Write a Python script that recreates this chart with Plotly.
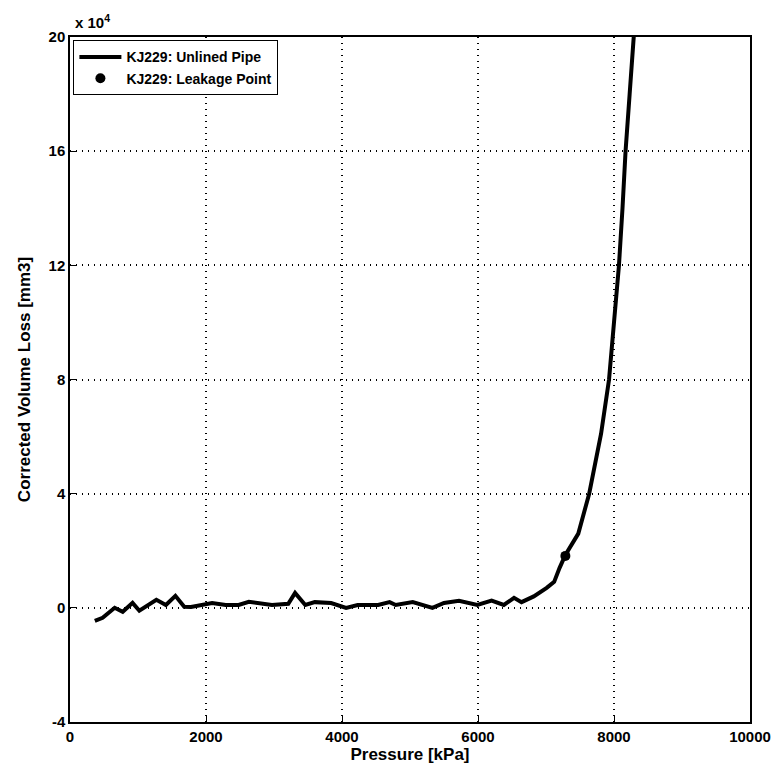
import plotly.graph_objects as go

pressure = [365, 480, 657, 775, 920, 1020, 1270, 1410, 1550, 1680, 1780, 2090, 2290, 2480, 2630,
            2970, 3210, 3310, 3460, 3600, 3840, 4060, 4230, 4530, 4700, 4790, 5040, 5300, 5330,
            5500, 5720, 5990, 6200, 6380, 6530, 6640, 6820, 7010, 7120, 7200, 7285, 7475, 7635,
            7810, 7927, 8000, 8073, 8125, 8170, 8230, 8290, 8330]
volume = [-4600, -3500, 0, -1400, 1750, -1000, 2800, 1000, 4200, 400, 300, 1700, 1000, 1000, 2100,
          1000, 1400, 5200, 1000, 2000, 1700, 0, 1000, 1000, 2000, 1000, 2000, 400, 0,
          1700, 2500, 1000, 2500, 1000, 3500, 2000, 4000, 7000, 9100, 14000, 18500, 26000, 40000,
          61000, 80000, 100000, 120000, 140000, 160000, 180000, 200000, 206000]
leak_x = [7285]
leak_y = [18200]

y_ticks = [-40000, 0, 40000, 80000, 120000, 160000, 200000]
y_labels = ["-4", "0", "4", "8", "12", "16", "20"]
x_ticks = [0, 2000, 4000, 6000, 8000, 10000]
x_labels = ["0", "2000", "4000", "6000", "8000", "10000"]

fig = go.Figure()
fig.add_trace(go.Scatter(x=pressure, y=volume, mode="lines", name="KJ229: Unlined Pipe",
                         line=dict(color="black", width=4)))
fig.add_trace(go.Scatter(x=leak_x, y=leak_y, mode="markers", name="KJ229: Leakage Point",
                         marker=dict(color="black", size=10)))

font = dict(family="Liberation Sans, Arial", size=15, color="black", weight="bold")
grid_dash = "1px,5px"
fig.update_layout(
    width=783, height=773,
    margin=dict(l=70, r=28, t=37, b=51),
    paper_bgcolor="white", plot_bgcolor="white",
    font=font,
    showlegend=True,
    legend=dict(x=0.005, y=0.995, xanchor="left", yanchor="top", bgcolor="white",
                bordercolor="black", borderwidth=1, font=dict(size=14, weight="bold"),
                itemwidth=42, tracegroupgap=0),
    xaxis=dict(range=[0, 10000], tickvals=x_ticks, ticktext=x_labels, showgrid=True,
               gridcolor="black", griddash=grid_dash, gridwidth=1.5, showline=True,
               linecolor="black", linewidth=1.5,
               mirror=True, ticks="inside", ticklen=6, tickcolor="black", zeroline=False,
               title=dict(text="Pressure [kPa]", font=dict(size=17, weight="bold"), standoff=2)),
    yaxis=dict(range=[-40000, 200000], tickvals=y_ticks, ticktext=y_labels, showgrid=True,
               gridcolor="black", griddash=grid_dash, gridwidth=1.5, showline=True,
               linecolor="black", linewidth=1.5, mirror=True, ticks="inside", ticklen=6,
               tickcolor="black", zeroline=False,
               title=dict(text="Corrected Volume Loss [mm3]", font=dict(size=17, weight="bold"),
                          standoff=14)),
    annotations=[dict(text="x 10<sup>4</sup>", xref="paper", yref="paper", x=0.005, y=1.0,
                      xanchor="left", yanchor="bottom", showarrow=False,
                      font=dict(size=15, weight="bold"), yshift=4)],
)
fig.write_html("out.html")
